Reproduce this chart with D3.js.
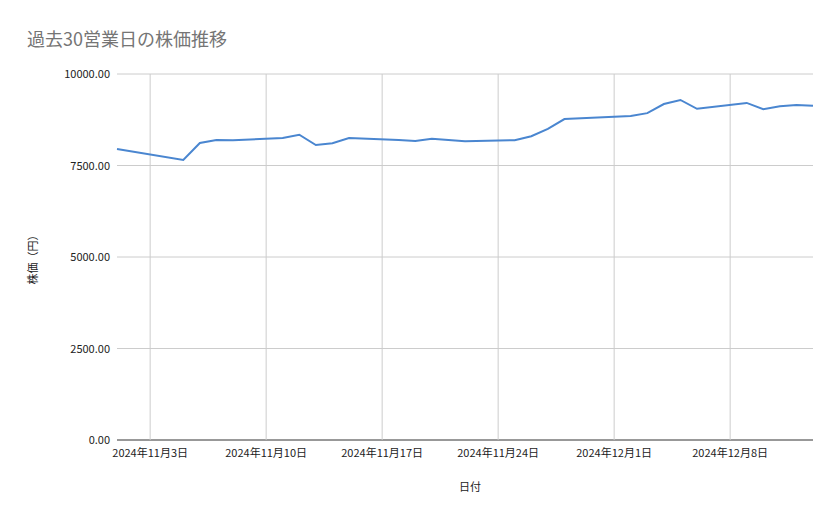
<!DOCTYPE html>
<html><head><meta charset="utf-8">
<script src="https://cdn.jsdelivr.net/npm/d3@7"></script>
<style>body{margin:0;background:#fff;font-family:"Noto Sans CJK JP",Roboto,sans-serif;}</style>
</head><body><svg id="chart" width="839" height="519"></svg>
<script>
//data
const dates = ["2024-11-01","2024-11-05","2024-11-06","2024-11-07","2024-11-08",
  "2024-11-11","2024-11-12","2024-11-13","2024-11-14","2024-11-15",
  "2024-11-18","2024-11-19","2024-11-20","2024-11-21","2024-11-22",
  "2024-11-25","2024-11-26","2024-11-27","2024-11-28","2024-11-29",
  "2024-12-02","2024-12-03","2024-12-04","2024-12-05","2024-12-06",
  "2024-12-09","2024-12-10","2024-12-11","2024-12-12","2024-12-13"];
const prices = [7951,7650,8115,8197,8190, 8250,8340,8060,8110,8250,
  8200,8170,8230,8200,8165, 8190,8300,8500,8770,8790,
  8850,8930,9180,9290,9050, 9210,9040,9120,9150,9130];
const xTicks = ["2024-11-03","2024-11-10","2024-11-17","2024-11-24","2024-12-01","2024-12-08"];
const yTicks = [0,2500,5000,7500,10000];

const margin = {top:74, right:26, bottom:79, left:117};
const width = 839 - margin.left - margin.right;
const height = 519 - margin.top - margin.bottom;
const parse = d3.utcParse("%Y-%m-%d");
const data = dates.map((d,i) => ({date: parse(d), v: prices[i]}));

const svg = d3.select("#chart");
svg.append("text").attr("x",27).attr("y",46).attr("fill","#757575")
  .attr("font-size",18).text("過去30営業日の株価推移");

const g = svg.append("g").attr("transform",`translate(${margin.left},${margin.top})`);
const x = d3.scaleUtc().domain([parse("2024-11-01"), parse("2024-12-13")]).range([0,width]);
const y = d3.scaleLinear().domain([0,10000]).range([height,0]);

//gridlines
g.selectAll(".hg").data(yTicks).join("line")
  .attr("x1",0).attr("x2",width).attr("y1",d=>y(d)).attr("y2",d=>y(d))
  .attr("stroke", d => d===0 ? "#333" : "#ccc");
g.selectAll(".vg").data(xTicks).join("line")
  .attr("x1",d=>x(parse(d))).attr("x2",d=>x(parse(d))).attr("y1",0).attr("y2",height)
  .attr("stroke","#ccc");

//tick labels
g.selectAll(".yl").data(yTicks).join("text")
  .attr("x",-7).attr("y",d=>y(d)+4).attr("text-anchor","end")
  .attr("font-size",11).attr("fill","#222").text(d=>d3.format(".2f")(d));
g.selectAll(".xl").data(xTicks).join("text")
  .attr("x",d=>x(parse(d))).attr("y",height+17).attr("text-anchor","middle")
  .attr("font-size",11).attr("fill","#222")
  .text(d => { const t = parse(d); return `${t.getUTCFullYear()}年${t.getUTCMonth()+1}月${t.getUTCDate()}日`; });

//axis titles
svg.append("text").attr("x",470).attr("y",491).attr("text-anchor","middle")
  .attr("font-size",11).attr("fill","#222").text("日付");
svg.append("text").attr("transform","translate(37,257) rotate(-90)").attr("text-anchor","middle")
  .attr("font-size",11).attr("fill","#222").text("株価（円）");

//line
g.append("path").datum(data)
  .attr("fill","none").attr("stroke","#4a86d0").attr("stroke-width",2)
  .attr("d", d3.line().x(d=>x(d.date)).y(d=>y(d.v)));
</script></body></html>
